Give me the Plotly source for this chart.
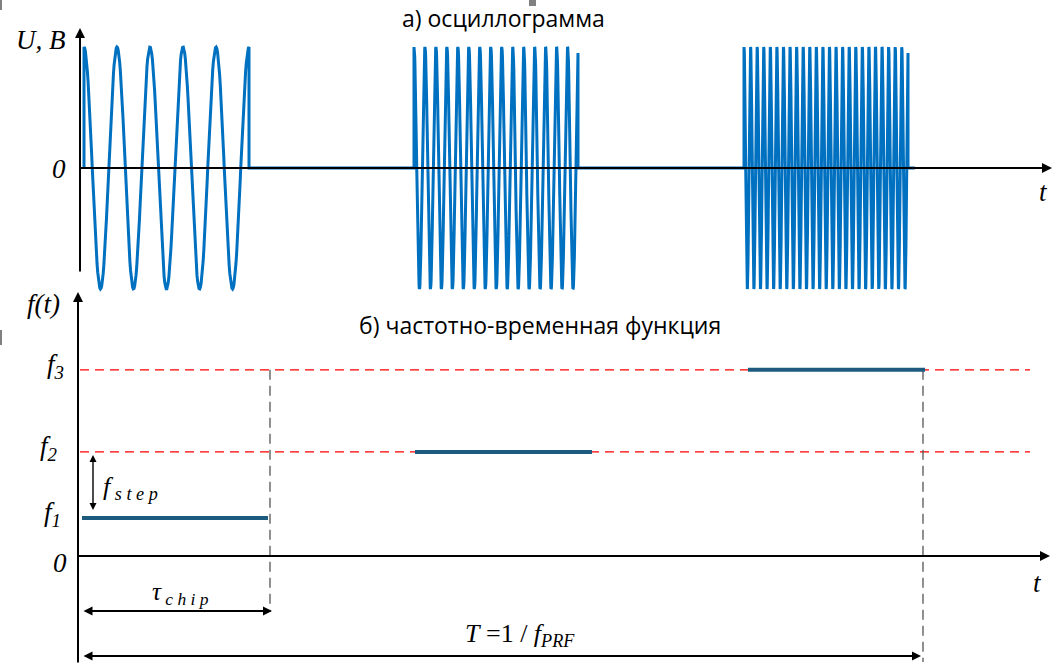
import numpy as np
import plotly.graph_objects as go

# ---------------- data (time in arbitrary units, origin at the axes) ----------------
# oscillogram bursts
burst_start = [4, 334, 664]
burst_end = [169, 498, 828]
burst_cycles = [5.0, 14.95, 24.95]
amplitude = 1.0
signal_tail_end = 835

# frequency-time function
chip_start = [2, 335, 668]
chip_end = [188, 512, 845]
chip_freq = [1.0, 2.74, 4.9]          # f1, f2, f3
freq_labels = ["f<sub>1</sub>", "f<sub>2</sub>", "f<sub>3</sub>"]

t_chip_end = 190        # end of τ_chip
T_end = 841             # end of period T
axis_t_end = 972

# ---------------- build signal ----------------
ts, us = [], []
for s, e, c in zip(burst_start, burst_end, burst_cycles):
    n = int(c * 48) + 2
    t = np.linspace(s, e, n)
    u = amplitude * np.cos(2 * np.pi * c * (t - s) / (e - s))
    ts += [s] + list(t) + [e]
    us += [0] + list(u) + [0]
ts.append(signal_tail_end)
us.append(0)

# pixel scale helpers (layout only)
W, H = 1056, 664
x_origin_px = 80
top_zero_px, top_scale = 168, 121
bot_zero_px, bot_scale = 556, 38
xr = [-x_origin_px, W - x_origin_px]
yr_top = [-(H - top_zero_px) / top_scale, top_zero_px / top_scale]
yr_bot = [-(H - bot_zero_px) / bot_scale, bot_zero_px / bot_scale]


def ty(px):  # top panel y from pixel
    return (top_zero_px - px) / top_scale


def by(px):  # bottom panel y from pixel
    return (bot_zero_px - px) / bot_scale


fig = go.Figure()

# signal
fig.add_trace(go.Scatter(x=ts, y=us, mode="lines", xaxis="x", yaxis="y",
                         line=dict(color="#0070C0", width=3), hoverinfo="skip"))

# red dashed reference lines at f2, f3
for f in chip_freq[1:]:
    fig.add_trace(go.Scatter(x=[0, 950], y=[f, f], mode="lines", xaxis="x", yaxis="y2",
                             line=dict(color="#FF0000", width=1.3, dash="9px,6px"), hoverinfo="skip"))

# gray dashed verticals
fig.add_trace(go.Scatter(x=[t_chip_end, t_chip_end], y=[chip_freq[2], by(612)], mode="lines",
                         xaxis="x", yaxis="y2", line=dict(color="#555555", width=1.3, dash="10px,6px"),
                         hoverinfo="skip"))
fig.add_trace(go.Scatter(x=[T_end + 2, T_end + 2], y=[chip_freq[2], by(662)], mode="lines",
                         xaxis="x", yaxis="y2", line=dict(color="#555555", width=1.3, dash="10px,6px"),
                         hoverinfo="skip"))

# frequency chips
for s, e, f in zip(chip_start, chip_end, chip_freq):
    fig.add_trace(go.Scatter(x=[s, e], y=[f, f], mode="lines", xaxis="x", yaxis="y2",
                             line=dict(color="#1D5B7E", width=4), hoverinfo="skip"))

# axes lines (top zero line, bottom zero line)
fig.add_trace(go.Scatter(x=[0, axis_t_end - 8], y=[0, 0], mode="lines", xaxis="x", yaxis="y",
                         line=dict(color="black", width=2), hoverinfo="skip"))
fig.add_trace(go.Scatter(x=[-2, axis_t_end - 10], y=[0, 0], mode="lines", xaxis="x", yaxis="y2",
                         line=dict(color="black", width=2), hoverinfo="skip"))

annotations = []


def arrow(x, y, ax, ay, yref, both=False, width=1.6, size=1.1):
    annotations.append(dict(x=x, y=y, ax=ax, ay=ay, xref="x", yref=yref, axref="x", ayref=yref,
                            text="", showarrow=True, arrowhead=2, arrowsize=size, arrowwidth=width,
                            arrowcolor="black", arrowside="end+start" if both else "end",
                            startarrowhead=2, startarrowsize=size))


# axis arrows
arrow(0, ty(28), 0, ty(273), "y", width=2, size=1.0)
arrow(axis_t_end, 0, 0, 0, "y", width=2, size=1.0)
arrow(-2, by(292), -2, by(664), "y2", width=2, size=1.0)
arrow(axis_t_end - 2, 0, -2, 0, "y2", width=2, size=1.0)
# f_step
arrow(13, chip_freq[1] - 0.08, 13, chip_freq[0] + 0.17, "y2", both=True, width=1.4, size=1.0)
# tau_chip
arrow(t_chip_end + 2, by(611), 2, by(611), "y2", both=True, width=1.8, size=1.0)
# T
arrow(T_end, by(656), 2, by(656), "y2", both=True, width=1.8, size=1.0)

SERIF = "Liberation Serif, Times New Roman, serif"
serif = dict(family=SERIF, size=27, color="black")
sans = dict(family="Open Sans, sans-serif", size=23, color="black")


def label(x, y, text, font=serif, xanchor="center", yanchor="middle"):
    annotations.append(dict(x=x, y=y, xref="paper", yref="paper", text=text, showarrow=False,
                            font=font, xanchor=xanchor, yanchor=yanchor))


def px(xp, yp):
    return xp / W, 1 - yp / H


for (xp, yp, txt) in [
    (41, 40, "<i>U, B</i>"),
    (59, 169, "<i>0</i>"),
    (1043, 192, "<i>t</i>"),
    (43, 304, "<i>f(t)</i>"),
    (60, 563, "<i>0</i>"),
    (1037, 583, "<i>t</i>"),
]:
    x, y = px(xp, yp)
    label(x, y, txt)

for f, lab, xp in zip(chip_freq, freq_labels, [52, 49, 55]):
    annotations.append(dict(x=xp / W, y=f + 0.1, xref="paper", yref="y2", text="<i>" + lab + "</i>",
                            showarrow=False, font=serif, xanchor="center", yanchor="middle"))

x, y = px(130, 488)
label(x, y, "<i>f<sub> s t e p</sub></i>", font=dict(family=SERIF, size=26, color="black"))
x, y = px(180, 593)
label(x, y, "<i>τ<sub> c h i p</sub></i>", font=dict(family=SERIF, size=25, color="black"))
x, y = px(520, 635)
label(x, y, "<i>T</i> =1 / <i>f<sub>PRF</sub></i>", font=dict(family=SERIF, size=26, color="black"))

x, y = px(503, 18)
label(x, y, "а) осциллограмма", font=sans)
x, y = px(540, 325)
label(x, y, "б) частотно-временная функция", font=sans)

shapes = [
    dict(type="rect", xref="paper", yref="paper", x0=0, x1=2 / W, y0=1 - 10 / H, y1=1,
         fillcolor="#808080", line_width=0),
    dict(type="rect", xref="paper", yref="paper", x0=529 / W, x1=536 / W, y0=1 - 6 / H, y1=1,
         fillcolor="#808080", line_width=0),
    dict(type="rect", xref="paper", yref="paper", x0=0, x1=2 / W, y0=1 - 345 / H, y1=1 - 330 / H,
         fillcolor="#808080", line_width=0),
]

fig.update_layout(
    width=W, height=H, margin=dict(l=0, r=0, t=0, b=0),
    paper_bgcolor="white", plot_bgcolor="white", showlegend=False,
    xaxis=dict(range=xr, visible=False, fixedrange=True),
    yaxis=dict(range=yr_top, visible=False, fixedrange=True),
    yaxis2=dict(range=yr_bot, visible=False, overlaying="y", fixedrange=True),
    annotations=annotations, shapes=shapes,
)

fig.write_html("out.html")
